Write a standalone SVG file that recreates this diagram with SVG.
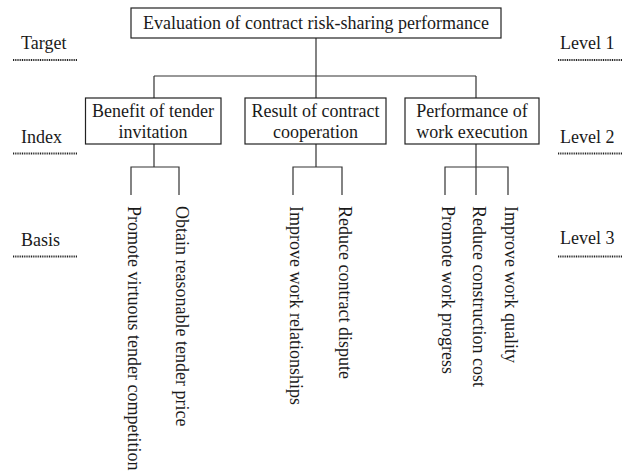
<svg xmlns="http://www.w3.org/2000/svg" width="628" height="474" viewBox="0 0 628 474">
  <style>
    text { font-family: "Liberation Serif", "Times New Roman", serif; font-size: 18px; fill: #1a1a1a; }
    .mid { text-anchor: middle; }
    .box { fill: #ffffff; stroke: #222222; stroke-width: 1.2; }
    .wire { fill: none; stroke: #333333; stroke-width: 1.2; }
    .rule { stroke: #222222; stroke-width: 2; stroke-dasharray: 1 0.8; }
  </style>
  <rect width="628" height="474" fill="#ffffff"/>

  <!-- level captions on both sides -->
  <g id="captions">
    <text x="21" y="49">Target</text>
    <line class="rule" x1="13" y1="60" x2="77" y2="60"/>
    <text x="21" y="143">Index</text>
    <line class="rule" x1="13" y1="153.5" x2="77" y2="153.5"/>
    <text x="21" y="246">Basis</text>
    <line class="rule" x1="13" y1="256.5" x2="77" y2="256.5"/>

    <text x="560" y="49">Level 1</text>
    <line class="rule" x1="558" y1="60" x2="622" y2="60"/>
    <text x="560" y="143">Level 2</text>
    <line class="rule" x1="558" y1="153.5" x2="622" y2="153.5"/>
    <text x="560" y="243.5">Level 3</text>
    <line class="rule" x1="558" y1="256.5" x2="622" y2="256.5"/>
  </g>

  <!-- tree connectors -->
  <g id="connectors">
    <path class="wire" d="M316 38 V76 M154 76 H476 M154 76 V98 M316 76 V98 M476 76 V98"/>
    <path class="wire" d="M154 144 V167 M131 195 V167 H179 V195"/>
    <path class="wire" d="M316 144 V167 M293 195 V167 H342 V195"/>
    <path class="wire" d="M476 144 V195 M445 195 V167 H508 V195"/>
  </g>

  <g id="root">
    <rect class="box" x="131" y="8" width="370" height="30"/>
    <text class="mid" x="316" y="28.5">Evaluation of contract risk-sharing performance</text>
  </g>

  <g id="tender">
    <rect class="box" x="85.5" y="98" width="135.5" height="46"/>
    <text class="mid" x="153" y="117">Benefit of tender</text>
    <text class="mid" x="153" y="137.5">invitation</text>
  </g>
  <g id="cooperation">
    <rect class="box" x="245" y="98" width="141" height="46"/>
    <text class="mid" x="315.5" y="117">Result of contract</text>
    <text class="mid" x="315.5" y="137.5">cooperation</text>
  </g>
  <g id="execution">
    <rect class="box" x="405" y="98" width="134" height="46"/>
    <text class="mid" x="472" y="117">Performance of</text>
    <text class="mid" x="472" y="137.5">work execution</text>
  </g>

  <!-- basis items, written top to bottom -->
  <g id="b1"><text transform="translate(127.5 206) rotate(90)">Promote virtuous tender competition</text></g>
  <g id="b2"><text transform="translate(175.5 206) rotate(90)">Obtain reasonable tender price</text></g>
  <g id="b3"><text transform="translate(289.5 206) rotate(90)">Improve work relationships</text></g>
  <g id="b4"><text transform="translate(338.5 206) rotate(90)">Reduce contract dispute</text></g>
  <g id="b5"><text transform="translate(441.5 206) rotate(90)">Promote work progress</text></g>
  <g id="b6"><text transform="translate(472.5 206) rotate(90)">Reduce construction cost</text></g>
  <g id="b7"><text transform="translate(504.5 206) rotate(90)">Improve work quality</text></g>
</svg>
